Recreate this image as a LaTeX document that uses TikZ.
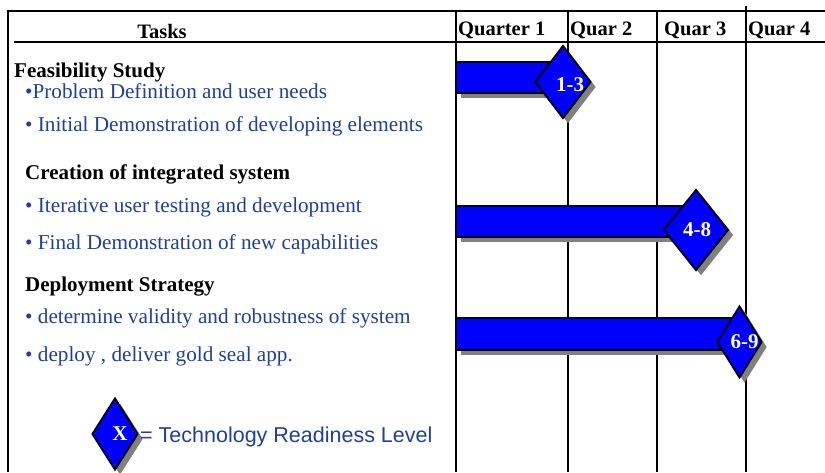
\documentclass[tikz,border=0pt]{standalone}
\usepackage{fontspec}
\setmainfont{Liberation Serif}
\newfontfamily\arialf{Liberation Sans}
\usetikzlibrary{shapes.geometric,shadows}
\definecolor{txtblue}{RGB}{30,62,160}
\definecolor{barblue}{RGB}{0,0,255}
\definecolor{shadowgray}{RGB}{128,128,128}
\tikzset{
  gridline/.style={line width=2.2pt,black},
  frameline/.style={line width=2.4pt,black},
  shade5/.style={drop shadow={shadow xshift=5pt,shadow yshift=-5pt,fill=shadowgray,opacity=1}},
  barbox/.style={draw=black,line width=1.8pt,fill=barblue,shade5},
  tdiamond/.style={shape=diamond,draw=black,line width=1.8pt,fill=barblue,inner sep=0pt,shade5},
  dlabel/.style={text=white,font=\fontsize{21}{24}\selectfont\bfseries,inner sep=0pt},
  head/.style={anchor=base west,inner sep=0pt,font=\fontsize{20.5}{24}\selectfont\bfseries},
  grouphead/.style={anchor=base west,inner sep=0pt,font=\fontsize{21}{25}\selectfont\bfseries},
  item/.style={anchor=base west,inner sep=0pt,text=txtblue,font=\fontsize{21.2}{25}\selectfont},
}
\begin{document}
\begin{tikzpicture}[x=1pt,y=-1pt]
\useasboundingbox (0,0) rectangle (825,472);
% frame and grid
\draw[frameline] (8,11) -- (825,11);
\draw[frameline] (8,10) -- (8,472);
\draw[gridline] (14,42) -- (825,42);
\draw[gridline] (456,11) -- (456,472);
\draw[gridline] (568,11) -- (568,472);
\draw[gridline] (657,11) -- (657,472);
\draw[gridline] (746,6) -- (746,472);
% headers
\node[anchor=base,inner sep=0pt,font=\fontsize{20.5}{24}\selectfont\bfseries] (tasks) at (162,38) {Tasks};
\node[head] (q1) at (458,35) {Quarter 1};
\node[head] (q2) at (570,35) {Quar 2};
\node[head] (q3) at (664,35) {Quar 3};
\node[head] (q4) at (748,35) {Quar 4};
% task texts
\node[grouphead] (g1) at (14,77) {Feasibility Study};
\node[item] (i1) at (25,98) {\textbullet Problem Definition and user needs};
\node[item] (i2) at (25,131) {\textbullet{} Initial Demonstration of developing elements};
\node[grouphead] (g2) at (25,179) {Creation of integrated system};
\node[item] (i3) at (25,212) {\textbullet{} Iterative user testing and development};
\node[item] (i4) at (25,249) {\textbullet{} Final Demonstration of new capabilities};
\node[grouphead] (g3) at (25,291) {Deployment Strategy};
\node[item] (i5) at (25,323) {\textbullet{} determine validity and robustness of system};
\node[item] (i6) at (25,361) {\textbullet{} deploy , deliver gold seal app.};
% bars
\path[barbox] (456,62) rectangle (560,93);
\path[barbox] (456,206) rectangle (690,237);
\path[barbox] (456,318) rectangle (735,350);
% diamonds
\node[tdiamond,minimum width=56pt,minimum height=73pt] (d1) at (563,82) {};
\node[dlabel] (l1) at ([shift={(7,3)}]d1.center) {1-3};
\node[tdiamond,minimum width=65pt,minimum height=81pt] (d2) at (696,230) {};
\node[dlabel] (l2) at ([shift={(1,0)}]d2.center) {4-8};
\node[tdiamond,minimum width=45pt,minimum height=72pt] (d3) at (739.5,342) {};
\node[dlabel] (l3) at ([shift={(5,0)}]d3.center) {6-9};
% legend
\node[tdiamond,minimum width=46pt,minimum height=72pt] (dx) at (115,434) {};
\node[dlabel] (lx) at ([shift={(5,0)}]dx.center) {X};
\node[anchor=west,inner sep=0pt,text=txtblue,font=\arialf\fontsize{21.5}{25}\selectfont] (leg) at (140,437) {= Technology Readiness Level};
\end{tikzpicture}
\end{document}
